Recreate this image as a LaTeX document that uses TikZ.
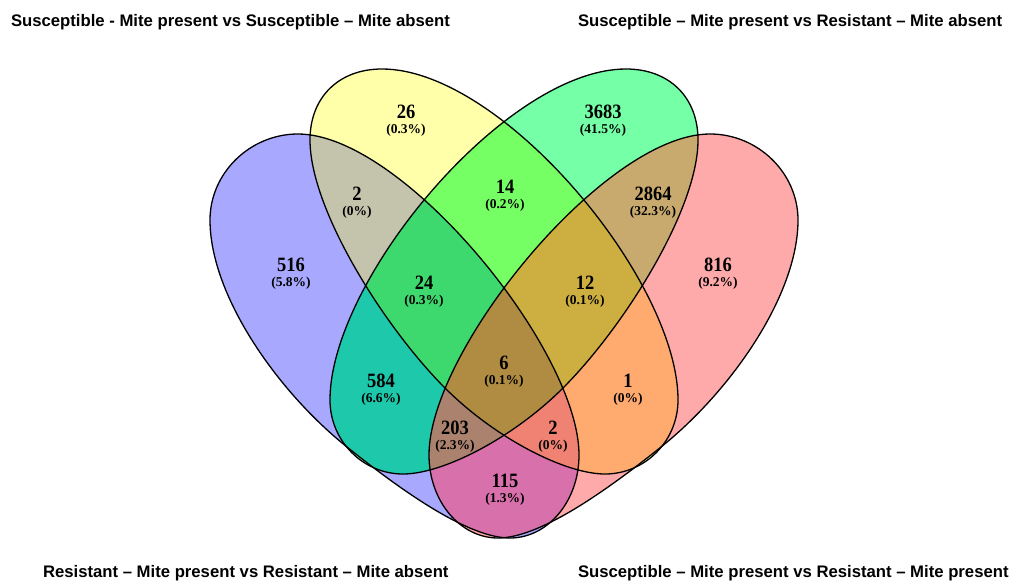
\documentclass[tikz,border=0pt]{standalone}
\usepackage{fontspec}
\setmainfont{Liberation Serif}
\newfontfamily\titlefont{Liberation Sans}
\definecolor{cB}{RGB}{168,168,255}
\definecolor{cY}{RGB}{255,255,170}
\definecolor{cG}{RGB}{117,255,167}
\definecolor{cR}{RGB}{255,170,170}
\definecolor{cBY}{RGB}{196,196,172}
\definecolor{cBG}{RGB}{30,200,170}
\definecolor{cBR}{RGB}{216,112,172}
\definecolor{cYG}{RGB}{117,255,100}
\definecolor{cYR}{RGB}{255,170,110}
\definecolor{cGR}{RGB}{200,170,110}
\definecolor{cBYG}{RGB}{62,217,110}
\definecolor{cBYR}{RGB}{240,130,115}
\definecolor{cBGR}{RGB}{170,130,110}
\definecolor{cYGR}{RGB}{205,175,65}
\definecolor{cAll}{RGB}{175,140,65}
\newcommand\tallnum[1]{\scalebox{1}[1.1]{#1}}
\newcommand\shpB{(298,134) .. controls (403,134) and (579,350) .. (579,455) .. controls (579,501) and (548,538) .. (510,538) .. controls (470,538) and (407,495) .. (347,447) .. controls (277,391) and (210,295) .. (210,220) .. controls (210,173) and (250,134) .. (298,134) -- cycle}
\newcommand\shpR{(710,134) .. controls (605,134) and (429,350) .. (429,455) .. controls (429,501) and (460,538) .. (498,538) .. controls (538,538) and (601,495) .. (661,447) .. controls (731,391) and (798,295) .. (798,220) .. controls (798,173) and (758,134) .. (710,134) -- cycle}
\newcommand\shpY{(382,69) .. controls (502,69) and (678,280) .. (678,400) .. controls (678,441) and (645,474) .. (605,474) .. controls (565,474) and (495,438) .. (445,388) .. controls (385,328) and (310,210) .. (310,140) .. controls (310,97) and (339,69) .. (382,69) -- cycle}
\newcommand\shpG{(626,69) .. controls (506,69) and (330,280) .. (330,400) .. controls (330,441) and (363,474) .. (403,474) .. controls (443,474) and (513,438) .. (563,388) .. controls (623,328) and (698,210) .. (698,140) .. controls (698,97) and (669,69) .. (626,69) -- cycle}
\begin{document}
\begin{tikzpicture}[x=1pt,y=-1pt,
  every node/.style={inner sep=0pt,outer sep=0pt},
  num/.style={font=\fontsize{18.5}{20}\selectfont\bfseries, anchor=base},
  pct/.style={font=\fontsize{13.5}{15}\selectfont\bfseries, anchor=base},
  ttl/.style={font=\titlefont\fontsize{16.7}{19}\selectfont\bfseries, anchor=base west},
  outline/.style={draw=black, line width=1.3pt}]
\useasboundingbox[fill=white] (0,0) rectangle (1011,583);
% single sets
\fill[cB] \shpB;
\fill[cR] \shpR;
\fill[cY] \shpY;
\fill[cG] \shpG;
% pairs
\begin{scope}\clip \shpB; \fill[cBY] \shpY; \end{scope}
\begin{scope}\clip \shpB; \fill[cBG] \shpG; \end{scope}
\begin{scope}\clip \shpB; \fill[cBR] \shpR; \end{scope}
\begin{scope}\clip \shpY; \fill[cYG] \shpG; \end{scope}
\begin{scope}\clip \shpY; \fill[cYR] \shpR; \end{scope}
\begin{scope}\clip \shpG; \fill[cGR] \shpR; \end{scope}
% triples
\begin{scope}\clip \shpB; \clip \shpY; \fill[cBYG] \shpG; \end{scope}
\begin{scope}\clip \shpB; \clip \shpY; \fill[cBYR] \shpR; \end{scope}
\begin{scope}\clip \shpB; \clip \shpG; \fill[cBGR] \shpR; \end{scope}
\begin{scope}\clip \shpY; \clip \shpG; \fill[cYGR] \shpR; \end{scope}
% all four
\begin{scope}\clip \shpB; \clip \shpY; \clip \shpG; \fill[cAll] \shpR; \end{scope}
% outlines
\draw[outline] \shpB;
\draw[outline] \shpR;
\draw[outline] \shpY;
\draw[outline] \shpG;
% counts
\node[num] (n26) at (406,118) {\tallnum{26}};     \node[pct] (p26) at (406,133.5) {(0.3\%)};
\node[num] (n3683) at (603,118) {\tallnum{3683}}; \node[pct] (p3683) at (603,133.5) {(41.5\%)};
\node[num] (n2a) at (357,200) {\tallnum{2}};      \node[pct] (p2a) at (357,215.5) {(0\%)};
\node[num] (n14) at (505,193) {\tallnum{14}};     \node[pct] (p14) at (505,208.5) {(0.2\%)};
\node[num] (n2864) at (653,200) {\tallnum{2864}}; \node[pct] (p2864) at (653,215.5) {(32.3\%)};
\node[num] (n516) at (291,271) {\tallnum{516}};   \node[pct] (p516) at (291,286.5) {(5.8\%)};
\node[num] (n24) at (424,289) {\tallnum{24}};     \node[pct] (p24) at (424,304.5) {(0.3\%)};
\node[num] (n12) at (585,289) {\tallnum{12}};     \node[pct] (p12) at (585,304.5) {(0.1\%)};
\node[num] (n816) at (718,271) {\tallnum{816}};   \node[pct] (p816) at (718,286.5) {(9.2\%)};
\node[num] (n6) at (504,369) {\tallnum{6}};       \node[pct] (p6) at (504,384.5) {(0.1\%)};
\node[num] (n584) at (381,387) {\tallnum{584}};   \node[pct] (p584) at (381,402.5) {(6.6\%)};
\node[num] (n1) at (628,387) {\tallnum{1}};       \node[pct] (p1) at (628,402.5) {(0\%)};
\node[num] (n203) at (455,434) {\tallnum{203}};   \node[pct] (p203) at (455,449.5) {(2.3\%)};
\node[num] (n2b) at (553,434) {\tallnum{2}};      \node[pct] (p2b) at (553,449.5) {(0\%)};
\node[num] (n115) at (505,487) {\tallnum{115}};   \node[pct] (p115) at (505,502.5) {(1.3\%)};
% titles
\node[ttl] (t1) at (11,26.5) {Susceptible - Mite present vs Susceptible – Mite absent};
\node[ttl] (t2) at (578,26.5) {Susceptible – Mite present vs Resistant – Mite absent};
\node[ttl] (t3) at (43,577.5) {Resistant – Mite present vs Resistant – Mite absent};
\node[ttl] (t4) at (578,577.5) {Susceptible – Mite present vs Resistant – Mite present};
\end{tikzpicture}
\end{document}
